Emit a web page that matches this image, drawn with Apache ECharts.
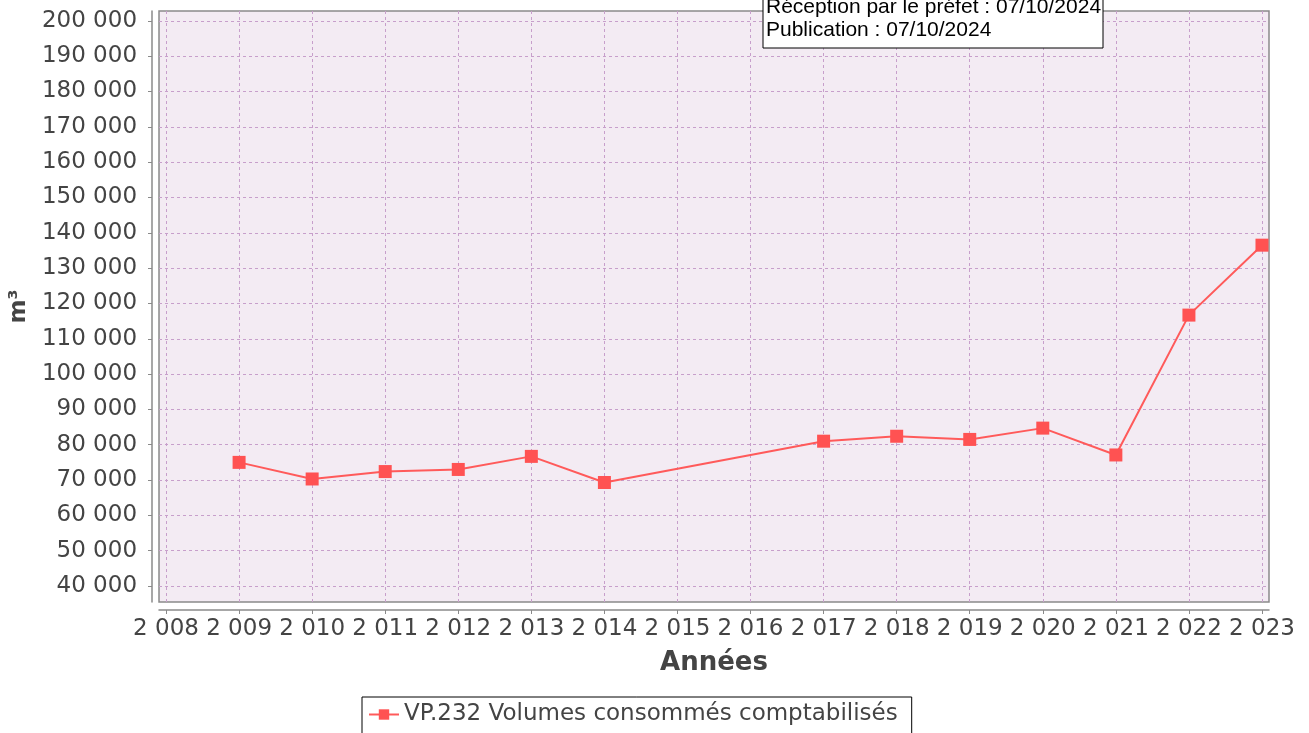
<!DOCTYPE html>
<html>
<head>
<meta charset="utf-8">
<script src="https://cdn.jsdelivr.net/npm/echarts@6/dist/echarts.min.js"></script>
<style>
    html,body{margin:0;padding:0;background:#fff;}
    #chart{width:1309px;height:733px;}
</style>
</head>
<body>
<div id="chart"></div>
<script>
    // années et volumes (m³)
    var years = [2009, 2010, 2011, 2012, 2013, 2014, 2017, 2018, 2019, 2020, 2021, 2022, 2023];
    var volumes = [75000, 70300, 72400, 73000, 76700, 69300, 81000, 82400, 81500, 84700, 77100, 116700, 136500];
    var seriesName = 'VP.232 Volumes consommés comptabilisés';

    var xTicks = [2008, 2009, 2010, 2011, 2012, 2013, 2014, 2015, 2016, 2017, 2018, 2019, 2020, 2021, 2022, 2023];
    var yTicks = [40000, 50000, 60000, 70000, 80000, 90000, 100000, 110000, 120000, 130000, 140000,
        150000, 160000, 170000, 180000, 190000, 200000];

    var noteLines = ['Réception par le préfet : 07/10/2024', 'Publication : 07/10/2024'];

    //séparateur de milliers
    var fmt = function(v){
        return String(Math.round(v)).replace(/\B(?=(\d{3})+(?!\d))/g, '\u00a0');
    };

    var points = [];
    for (var i = 0; i < years.length; i++) {
        points.push([years[i], volumes[i]]);
    }

    var gridLine = {
        show: true,
        lineStyle: {color: '#c79fcb', width: 1, type: [3, 3]}
    };
    var labelStyle = {color: '#444', fontSize: 23, fontFamily: 'DejaVu Sans'};

    var option = {
        animation: false,
        backgroundColor: '#fff',
        grid: {
            left: 159, right: 40, top: 11, bottom: 131,
            show: true,
            backgroundColor: '#f3ebf3',
            borderColor: '#8a8a8a',
            borderWidth: 1.5
        },
        xAxis: {
            type: 'value',
            min: 2007.904,
            max: 2023.096,
            offset: 8,
            name: 'Années',
            nameLocation: 'middle',
            nameGap: 40,
            nameTextStyle: {color: '#444', fontSize: 26, fontWeight: 'bold', fontFamily: 'DejaVu Sans'},
            axisLine: {show: true, lineStyle: {color: '#8a8a8a', width: 1.5}},
            axisTick: {show: true, length: 4, customValues: xTicks, lineStyle: {color: '#8a8a8a'}},
            axisLabel: {
                customValues: xTicks, margin: 8,
                color: labelStyle.color, fontSize: labelStyle.fontSize, fontFamily: labelStyle.fontFamily,
                formatter: fmt
            },
            splitLine: gridLine
        },
        yAxis: {
            type: 'value',
            min: 35470,
            max: 202800,
            offset: 7,
            name: 'm³',
            nameLocation: 'middle',
            nameGap: 120,
            nameTextStyle: {color: '#444', fontSize: 23, fontWeight: 'bold', fontFamily: 'DejaVu Sans'},
            axisLine: {show: true, lineStyle: {color: '#8a8a8a', width: 1.5}},
            axisTick: {show: true, length: 4, customValues: yTicks, lineStyle: {color: '#8a8a8a'}},
            axisLabel: {
                customValues: yTicks, margin: 15,
                color: labelStyle.color, fontSize: labelStyle.fontSize, fontFamily: labelStyle.fontFamily,
                formatter: fmt
            },
            splitLine: gridLine
        },
        legend: {
            left: 362,
            top: 697,
            padding: [6, 14, 14, 6],
            borderColor: '#000',
            borderWidth: 1,
            itemWidth: 30,
            itemHeight: 13,
            itemGap: 4,
            textStyle: {color: '#444', fontSize: 23, fontFamily: 'DejaVu Sans'},
            data: [seriesName]
        },
        graphic: [
            {
                type: 'rect',
                shape: {x: 763, y: -20, width: 340, height: 68},
                style: {fill: '#fff', stroke: '#000', lineWidth: 1},
                z: 100
            },
            {
                type: 'text',
                x: 766,
                y: -4,
                style: {
                    text: noteLines.join('\n'),
                    fill: '#000',
                    font: '21px "Liberation Sans"',
                    lineHeight: 23
                },
                z: 101
            }
        ],
        series: [
            {
                name: seriesName,
                type: 'line',
                data: points,
                symbol: 'rect',
                symbolSize: 13,
                clip: false,
                itemStyle: {color: '#ff5252'},
                lineStyle: {color: '#ff5a5a', width: 2}
            }
        ]
    };

    echarts.init(document.getElementById('chart')).setOption(option);
</script>
</body>
</html>
